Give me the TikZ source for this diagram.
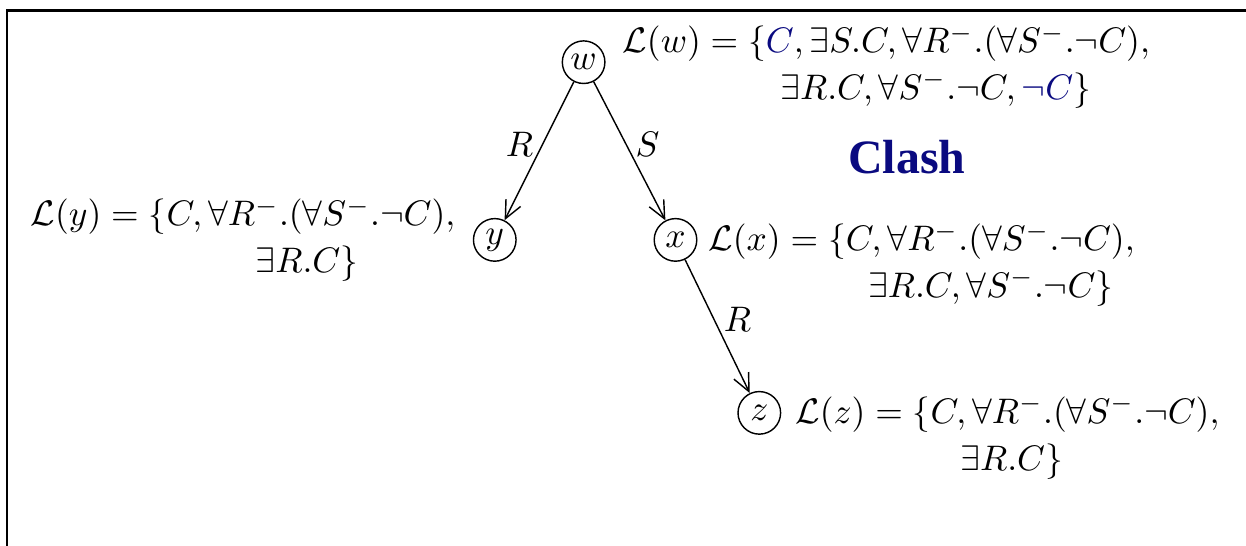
\documentclass[tikz,border=0pt]{standalone}
\usepackage{amsmath,amssymb}
\usepackage{fontspec}
\newfontfamily\clashfont{Liberation Serif}
\usetikzlibrary{arrows.meta}
\definecolor{ink}{HTML}{000000}
\definecolor{navy}{HTML}{0A0A80}

\begin{document}
\begin{tikzpicture}[ink,
    world/.style={draw,circle,inner sep=0pt,minimum size=12pt},
    edge/.style={-{Straight Barb[length=5pt,width=4.6pt]}},
    elab/.style={pos=0.45,inner sep=2.5pt},
    lab/.style={inner sep=0pt,align=left,anchor=north west}]
  \useasboundingbox (0,0) rectangle (12.34,5.406);

  % frame, cut off at the right and bottom
  \draw[line width=0.8pt] (0.069,0) -- (0.069,5.306) -- (12.34,5.306);

  \node[world] (w) at (5.78,4.79) {$w$};
  \node[world] (y) at (4.90,3.03) {$y$};
  \node[world] (x) at (6.69,3.03) {$x$};
  \node[world] (z) at (7.52,1.317) {$z$};

  \draw[edge] (w) -- node[elab,left] (ry) {$R$} (y);
  \draw[edge] (w) -- node[elab,right] (sx) {$S$} (x);
  \draw[edge] (x) -- node[elab,right] (rz) {$R$} (z);

  % node labels
  \node[lab] (lw) at (6.158,5.168)
    {$\mathcal{L}(w) = \{\textcolor{navy}{C}, \exists S.C, \forall R^{-}.(\forall S^{-}.\neg C),$\\[1.2pt]
     \hspace*{44.5pt}$\exists R.C, \forall S^{-}.\neg C, \textcolor{navy}{\neg C}\}$};
  \node[lab] (ly) at (0.297,3.455)
    {$\mathcal{L}(y) = \{C, \forall R^{-}.(\forall S^{-}.\neg C),$\\[1.2pt]
     \hspace*{63.4pt}$\exists R.C\}$};
  \node[lab] (lx) at (7.009,3.208)
    {$\mathcal{L}(x) = \{C, \forall R^{-}.(\forall S^{-}.\neg C),$\\[1.2pt]
     \hspace*{45pt}$\exists R.C, \forall S^{-}.\neg C\}$};
  \node[lab] (lz) at (7.87,1.495)
    {$\mathcal{L}(z) = \{C, \forall R^{-}.(\forall S^{-}.\neg C),$\\[1.2pt]
     \hspace*{46.5pt}$\exists R.C\}$};

  \node[navy,font=\clashfont\bfseries\fontsize{13.5}{16}\selectfont] (clash) at (8.98,3.851) {Clash};
\end{tikzpicture}
\end{document}
